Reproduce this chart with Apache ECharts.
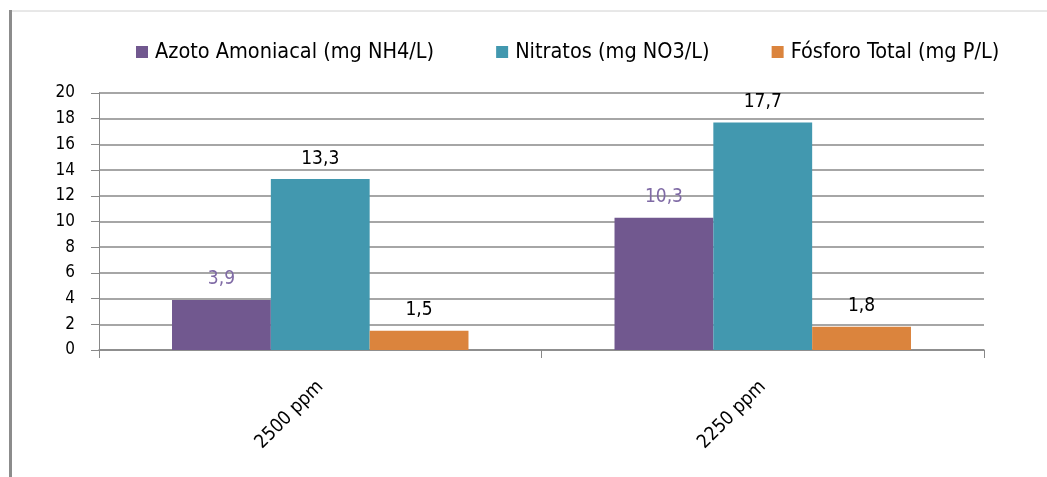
<!DOCTYPE html>
<html>
<head>
<meta charset="utf-8">
<script src="https://cdn.jsdelivr.net/npm/echarts@6/dist/echarts.min.js"></script>
<style>
  html, body { margin: 0; padding: 0; background: #fff; }
  #chart { width: 1047px; height: 477px; }
</style>
</head>
<body>
<div id="chart"></div>
<script>
// Concentrações por dosagem
const categories = ['2500 ppm', '2250 ppm'];
const seriesNames = ['Azoto Amoniacal (mg NH4/L)', 'Nitratos (mg NO3/L)', 'Fósforo Total (mg P/L)'];
const azoto = [3.9, 10.3];
const nitratos = [13.3, 17.7];
const fosforo = [1.5, 1.8];
const colors = ['#71588F', '#4298AF', '#DB843D'];
const labelColors = ['#7F6AA5', '#000', '#000'];

const FONT = "'DejaVu Sans Condensed', 'DejaVu Sans', sans-serif";
const fmt = v => String(v.value).replace('.', ',');

function barSeries(name, data, i) {
  return {
    name, type: 'bar', data,
    barGap: '0%', barCategoryGap: '33%',
    itemStyle: { color: colors[i] },
    label: {
      show: true, position: 'top', distance: 11,
      formatter: fmt, color: labelColors[i],
      fontFamily: FONT, fontSize: 19
    }
  };
}

const chart = echarts.init(document.getElementById('chart'), null, { renderer: 'canvas' });
chart.setOption({
  animation: false,
  textStyle: { fontFamily: FONT },
  graphic: [
    { type: 'line', shape: { x1: 11, y1: 11, x2: 1047, y2: 11 }, style: { stroke: '#d0d0d0', lineWidth: 1 } },
    { type: 'rect', shape: { x: 9, y: 10, width: 3, height: 467 }, style: { fill: '#8c8c8c' } }
  ],
  legend: {
    top: 36, left: 131,
    itemWidth: 12, itemHeight: 12, itemGap: 62,
    icon: 'rect',
    textStyle: { fontFamily: FONT, fontSize: 21.5, color: '#000', padding: [0, 0, 0, 2] },
    data: seriesNames
  },
  grid: { left: 99, right: 63, top: 93, bottom: 127, containLabel: false },
  xAxis: {
    type: 'category', data: categories,
    axisLine: { lineStyle: { color: '#888', width: 1.5 } },
    axisTick: { show: true, length: 8, lineStyle: { color: '#888' } },
    axisLabel: { rotate: 45, fontSize: 19, color: '#000', margin: 34, fontFamily: FONT }
  },
  yAxis: {
    type: 'value', min: 0, max: 20, interval: 2,
    axisLine: { show: true, lineStyle: { color: '#888', width: 1 } },
    axisTick: { show: true, length: 8, lineStyle: { color: '#888' } },
    splitLine: { lineStyle: { color: '#888', width: 1.5 } },
    axisLabel: { fontSize: 17, color: '#000', margin: 24, fontFamily: FONT }
  },
  series: [
    barSeries(seriesNames[0], azoto, 0),
    barSeries(seriesNames[1], nitratos, 1),
    barSeries(seriesNames[2], fosforo, 2)
  ]
});
</script>
</body>
</html>
